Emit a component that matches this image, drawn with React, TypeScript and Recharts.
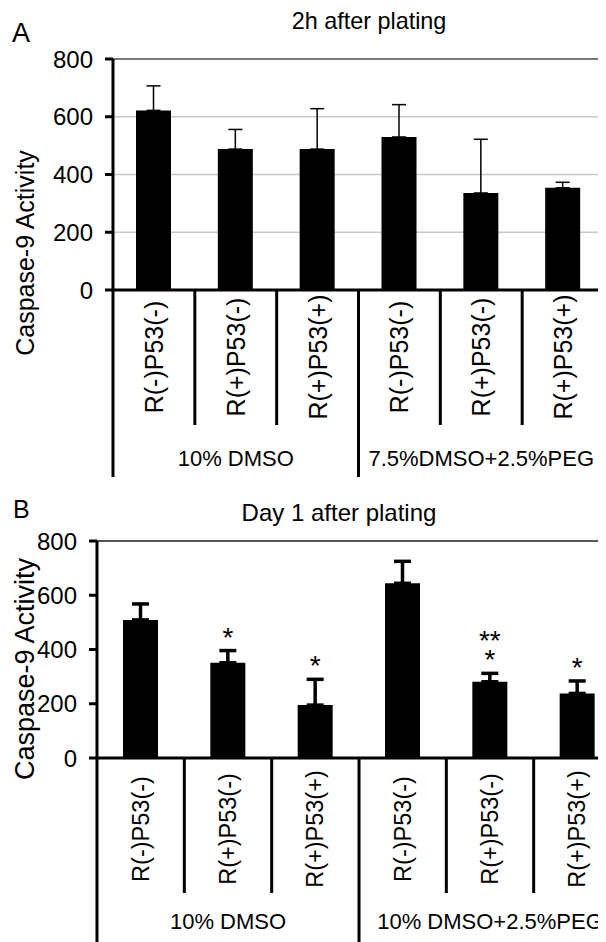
import React from 'react';
import { Bar, BarChart, CartesianGrid, ErrorBar, LabelList, ReferenceArea, ReferenceLine, XAxis, YAxis } from 'recharts';

const FONT = '"Liberation Sans", Arial, Helvetica, sans-serif';

const categories = ['R(-)P53(-)', 'R(+)P53(-)', 'R(+)P53(+)', 'R(-)P53(-)', 'R(+)P53(-)', 'R(+)P53(+)'];
const groupsA = ['10% DMSO', '7.5%DMSO+2.5%PEG'];
const groupsB = ['10% DMSO', '10% DMSO+2.5%PEG'];

// 2h after plating
const meanA = [622, 488, 488, 530, 336, 354];
const errA = [85, 68, 140, 112, 186, 19];

// Day 1 after plating
const meanB = [509, 351, 195, 644, 281, 238];
const errB = [59, 45, 95, 81, 31, 46];
const sigB = ['', '*', '*', '', '**|*', '*'];

const yTicks = [0, 200, 400, 600, 800];

const dataA = categories.map((c, i) => ({ name: c, idx: i, value: meanA[i], err: [0, errA[i]] }));
const dataB = categories.map((c, i) => ({ name: c, idx: i, value: meanB[i], err: [0, errB[i]], sig: sigB[i] }));

function CategoryTick(props: any) {
    const { x, y, payload, cfg } = props;
    const i = payload.index;
    const bw = payload.offset ? payload.offset * 2 : cfg.bw;
    const left = x - bw / 2;
    const groupStart = i % 3 === 0;
    return (
        <g>
            <line
                x1={left}
                x2={left}
                y1={y}
                y2={y + (groupStart ? cfg.longLen : cfg.shortLen)}
                stroke="#000"
                strokeWidth={3}
            />
            <text
                x={x}
                y={y + cfg.labelDy}
                transform={`rotate(-90, ${x}, ${y + cfg.labelDy})`}
                textAnchor="middle"
                dominantBaseline="central"
                fontSize={cfg.labelSize}
                fontFamily={FONT}
                fill="#000"
            >
                {payload.value}
            </text>
            {groupStart && (
                <text
                    x={x + bw}
                    y={y + cfg.groupDy}
                    textAnchor="middle"
                    fontSize={cfg.groupSize}
                    fontFamily={FONT}
                    fill="#000"
                >
                    {cfg.groups[i / 3]}
                </text>
            )}
        </g>
    );
}

// significance marks above the error bars of panel B
function SigLabel(props: any) {
    const { x, y, width, height, value, index } = props;
    if (!value) return null;
    const errPx = (errB[index] * height) / meanB[index];
    const cx = x + width / 2;
    const base = y - errPx - 4;
    const lines = String(value).split('|');
    const top = base - (lines.length - 1) * 19;
    return (
        <text x={cx} y={top} textAnchor="middle" fontSize={28} fontFamily={FONT} fill="#000">
            {lines.map((l, k) => (
                <tspan key={k} x={cx} y={top + k * 19}>
                    {l}
                </tspan>
            ))}
        </text>
    );
}

const yAxisProps = {
    type: 'number' as const,
    domain: [0, 800],
    ticks: yTicks,
    interval: 0 as const,
    tick: { fontSize: 24, fill: '#000', fontFamily: FONT },
    tickSize: 8,
    tickMargin: 12,
    axisLine: { stroke: '#000', strokeWidth: 3 },
    tickLine: { stroke: '#000', strokeWidth: 3 },
};

export default function App() {
    return (
        <div style={{ position: 'relative', width: 606, height: 942, overflow: 'hidden', margin: '-8px 0 0 -8px', background: '#fff' }}>
            <div style={{ position: 'absolute', left: 0, top: 0 }}>
                <BarChart width={606} height={480} data={dataA} margin={{ top: 59, right: 2, left: 0, bottom: 0 }}>
                    <CartesianGrid vertical={false} stroke="#c8c8c8" strokeWidth={1.5} />
                    <ReferenceArea y1={0} y2={800} fill="none" stroke="#7a7a7a" strokeWidth={2} ifOverflow="visible" />
                    <XAxis
                        dataKey="name"
                        height={190}
                        interval={0}
                        tickLine={false}
                        tickSize={0}
                        tickMargin={0}
                        axisLine={{ stroke: '#000', strokeWidth: 3 }}
                        tick={(p: any) => (
                            <CategoryTick {...p} cfg={{ bw: 82, shortLen: 135, longLen: 187, labelDy: 67, labelSize: 25, groupDy: 176, groupSize: 22, groups: groupsA }} />
                        )}
                    />
                    <YAxis {...yAxisProps} width={113} />
                    <Bar dataKey="value" fill="#000" barSize={35} isAnimationActive={false}>
                        <ErrorBar dataKey="err" direction="y" width={7} stroke="#000" strokeWidth={1.5} isAnimationActive={false} />
                    </Bar>
                </BarChart>
            </div>
            <div style={{ position: 'absolute', left: 0, top: 480 }}>
                <BarChart width={640} height={480} data={dataB} margin={{ top: 61, right: 19, left: 0, bottom: 0 }}>
                    <ReferenceLine y={800} stroke="#555" strokeWidth={2} ifOverflow="visible" />
                    <XAxis
                        dataKey="name"
                        height={202}
                        interval={0}
                        tickLine={false}
                        tickSize={0}
                        tickMargin={0}
                        axisLine={{ stroke: '#000', strokeWidth: 3 }}
                        tick={(p: any) => (
                            <CategoryTick {...p} cfg={{ bw: 87, shortLen: 135, longLen: 220, labelDy: 71, labelSize: 23.5, groupDy: 171, groupSize: 22, groups: groupsB }} />
                        )}
                    />
                    <YAxis {...yAxisProps} width={97} />
                    <Bar dataKey="value" fill="#000" barSize={35} isAnimationActive={false}>
                        <ErrorBar dataKey="err" direction="y" width={8.5} stroke="#000" strokeWidth={3.5} isAnimationActive={false} />
                        <LabelList dataKey="sig" content={SigLabel} />
                    </Bar>
                </BarChart>
            </div>
            <svg width={606} height={942} style={{ position: 'absolute', left: 0, top: 0, pointerEvents: 'none' }} fontFamily={FONT}>
                <text x={12} y={42} fontSize={27} fill="#000">A</text>
                <text x={369} y={29} fontSize={23.4} textAnchor="middle" fill="#000">2h after plating</text>
                <text x={34} y={253} fontSize={25} textAnchor="middle" fill="#000" transform="rotate(-90, 34, 253)">Caspase-9 Activity</text>
                <text x={13} y={518} fontSize={25} fill="#000">B</text>
                <text x={339} y={521} fontSize={24} textAnchor="middle" fill="#000">Day 1 after plating</text>
                <text x={34} y={669} fontSize={27} textAnchor="middle" fill="#000" transform="rotate(-90, 34, 669)">Caspase-9 Activity</text>
            </svg>
        </div>
    );
}
